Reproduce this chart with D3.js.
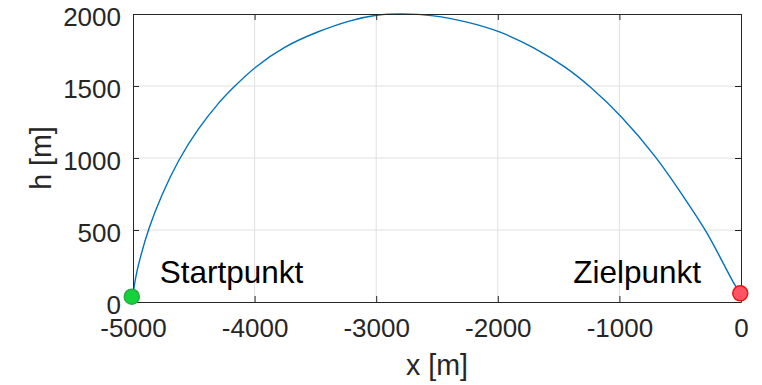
<!DOCTYPE html>
<html>
<head>
<meta charset="utf-8">
<script src="https://cdn.jsdelivr.net/npm/d3@7"></script>
<style>
  html, body { margin: 0; padding: 0; background: #fff; }
  svg { display: block; font-family: "Liberation Sans", Arial, Helvetica, sans-serif; }
</style>
</head>
<body>
<svg id="chart" width="762" height="385"></svg>
<script>
// ---- data ----
const trajX = [-5005, -4995, -4975, -4940, -4877, -4767, -4629, -4465, -4286, -4174, -4003, -3762, -3487, -3213, -2993, -2800, -2529, -2251, -1991, -1703, -1428, -1252, -988, -686, -494, -288, -165, -55, -6];
const trajH = [30, 85, 190, 310, 500, 740, 985, 1205, 1395, 1490, 1630, 1773, 1877, 1958, 1997, 2004, 1993, 1946, 1884, 1770, 1625, 1505, 1299, 998, 758, 500, 300, 120, 60];
const startPoint = [-5010, 37];
const endPoint = [-6, 60];
const xTicks = [-5000, -4000, -3000, -2000, -1000, 0];
const yTicks = [0, 500, 1000, 1500, 2000];
const labels = [
  { text: "Startpunkt", x: -4780, h: 130 },
  { text: "Zielpunkt", x: -1380, h: 130 }
];
const xLabel = "x [m]";
const yLabel = "h [m]";

// ---- layout ----
const svg = d3.select("#chart");
const L = 133, R = 741, T = 14, B = 302;
const x = d3.scaleLinear().domain([-5000, 0]).range([L, R]);
const y = d3.scaleLinear().domain([0, 2000]).range([B, T]);
const axisColor = "#262626";
const tickLen = 6;
const fmt = d => String(d);

// grid
const grid = svg.append("g");
grid.selectAll("line.vx").data(xTicks.slice(1, -1)).join("line")
  .attr("x1", d => x(d)).attr("x2", d => x(d)).attr("y1", T).attr("y2", B)
  .attr("stroke", "#e0e0e0").attr("stroke-width", 1);
grid.selectAll("line.hy").data(yTicks.slice(1, -1)).join("line")
  .attr("y1", d => y(d)).attr("y2", d => y(d)).attr("x1", L).attr("x2", R)
  .attr("stroke", "#e0e0e0").attr("stroke-width", 1);

// curve
const pts = trajX.map((v, i) => [v, trajH[i]]);
svg.append("path")
  .datum(pts)
  .attr("fill", "none")
  .attr("stroke", "#0072BD")
  .attr("stroke-width", 1.4)
  .attr("d", d3.line().x(d => x(d[0])).y(d => y(d[1])).curve(d3.curveBasis));

// axes (box with inward ticks on all sides)
const bottomAxis = d3.axisBottom(x).tickValues(xTicks).tickSizeInner(-tickLen).tickSizeOuter(0).tickFormat(fmt);
const topAxis = d3.axisTop(x).tickValues(xTicks).tickSizeInner(-tickLen).tickSizeOuter(0).tickFormat("");
const leftAxis = d3.axisLeft(y).tickValues(yTicks).tickSizeInner(-tickLen).tickSizeOuter(0).tickFormat(fmt);
const rightAxis = d3.axisRight(y).tickValues(yTicks).tickSizeInner(-tickLen).tickSizeOuter(0).tickFormat("");

function style(g) {
  g.select(".domain").attr("stroke", axisColor).attr("stroke-width", 1);
  g.selectAll(".tick line").attr("stroke", axisColor).attr("stroke-width", 1);
  g.selectAll(".tick text").attr("fill", axisColor).attr("font-size", 26)
    .attr("font-family", '"Liberation Sans", Arial, Helvetica, sans-serif');
}
const gb = svg.append("g").attr("transform", `translate(0,${B})`).call(bottomAxis).call(style);
gb.selectAll(".tick text").attr("dy", null).attr("y", 35);
svg.append("g").attr("transform", `translate(0,${T})`).call(topAxis).call(style);
const gl = svg.append("g").attr("transform", `translate(${L},0)`).call(leftAxis).call(style);
gl.selectAll(".tick text").attr("dy", null).attr("y", 11).attr("x", -12);
svg.append("g").attr("transform", `translate(${R},0)`).call(rightAxis).call(style);

// markers
svg.append("circle").attr("cx", x(startPoint[0])).attr("cy", y(startPoint[1])).attr("r", 7.5)
  .attr("fill", "#14d23c").attr("stroke", "#20b040").attr("stroke-width", 1.5);
svg.append("circle").attr("cx", x(endPoint[0])).attr("cy", y(endPoint[1])).attr("r", 7.5)
  .attr("fill", "#ff5563").attr("stroke", "#ee1111").attr("stroke-width", 1.5);

// annotations
svg.selectAll("text.ann").data(labels).join("text")
  .attr("class", "ann")
  .attr("x", d => x(d.x)).attr("y", d => y(d.h))
  .attr("font-size", 31.5).attr("fill", "#000")
  .text(d => d.text);

// axis labels
svg.append("text").attr("x", (L + R) / 2).attr("y", 375)
  .attr("text-anchor", "middle").attr("font-size", 28.6).attr("fill", axisColor).text(xLabel);
svg.append("text").attr("transform", `translate(51,${(T + B) / 2}) rotate(-90)`)
  .attr("text-anchor", "middle").attr("font-size", 28.6).attr("fill", axisColor).text(yLabel);
</script>
</body>
</html>
